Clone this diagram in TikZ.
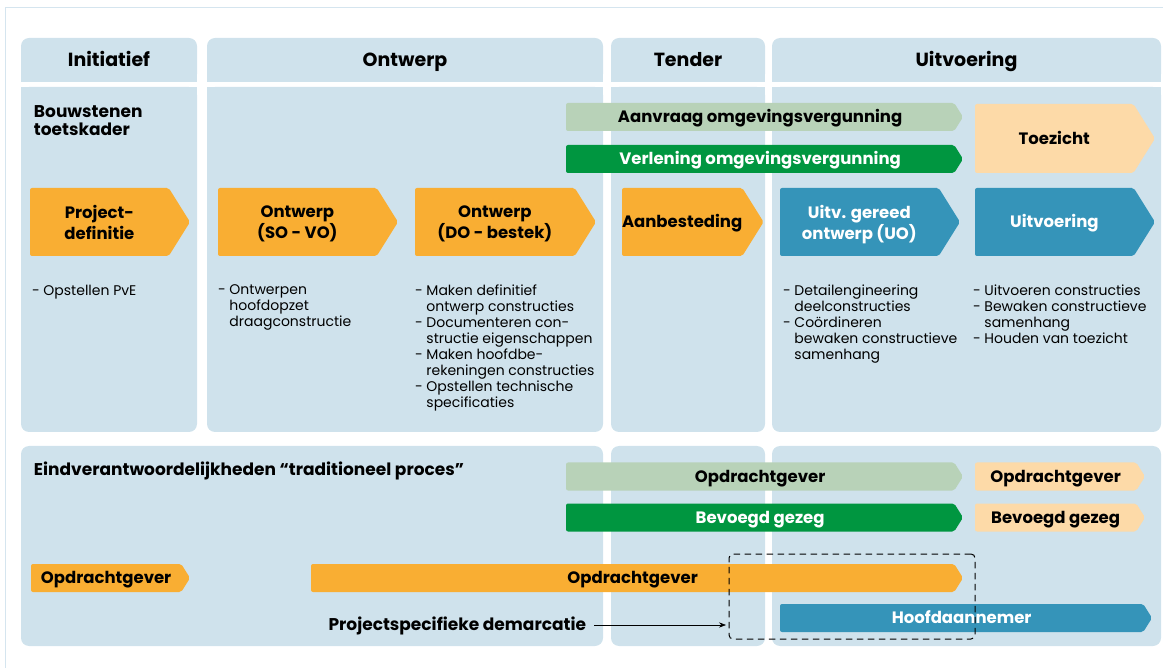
\documentclass[tikz,border=0pt]{standalone}
\usepackage{fontspec}
\setmainfont{Poppins}
\usetikzlibrary{positioning,shapes.symbols,arrows.meta}
\definecolor{panelblue}{HTML}{CFE2EC}
\definecolor{framecol}{HTML}{D5E5EF}
\definecolor{lgreen}{HTML}{B8D2B8}
\definecolor{dgreen}{HTML}{009640}
\definecolor{orng}{HTML}{F9AE33}
\definecolor{peach}{HTML}{FDDAA8}
\definecolor{pblue}{HTML}{3594B9}
\newcommand{\ind}{\hphantom{- }}

\begin{document}
\begin{tikzpicture}[x=1pt,y=-1pt]
        \tikzstyle{every node}=[inner sep=0pt, outer sep=0pt]
        \tikzstyle{phase}=[font=\bfseries\fontsize{19}{22}\selectfont, text height=13.3pt, text depth=0pt]
        \tikzstyle{bar}=[signal, signal to=east, signal pointer angle=116, rounded corners=2pt, anchor=west, align=center, font=\bfseries\fontsize{16.5}{21}\selectfont]
        \tikzstyle{small}=[bar, minimum height=28, text height=11.6pt, text depth=0pt]
        \tikzstyle{big}=[bar, minimum height=68, text depth=0pt]
        \tikzstyle{list}=[anchor=north west, align=left, font=\fontsize{14}{16}\selectfont]
        \tikzstyle{title}=[font=\bfseries\fontsize{17}{18}\selectfont]

        \useasboundingbox (0,0) rectangle (1163,668);
        \draw[framecol] (5.5,668) |- (1163,7.5);

        \foreach \xa/\xb/\ph in {21/197/Initiatief, 207/603/Ontwerp, 611/765/Tender, 772/1161/Uitvoering} {
            \fill[panelblue, rounded corners=8] (\xa,38) rectangle (\xb,82);
            \fill[panelblue] (\xa,60) rectangle (\xb,82);
            \fill[panelblue, rounded corners=8] (\xa,87) rectangle (\xb,432);
            \fill[panelblue] (\xa,87) rectangle (\xb,110);
            \node (\ph) [phase] at ({(\xa+\xb)/2},60) {\ph};
        }
        \foreach \xa/\xb in {21/603, 611/765, 772/1161}
            \fill[panelblue, rounded corners=8] (\xa,446) rectangle (\xb,646);

        \node (bouw) [title, anchor=north west, align=left] at (34,106) {Bouwstenen\\toetskader};

        \node (aanvraag)  [small, fill=lgreen, minimum width=397] at (566,117) {Aanvraag omgevingsvergunning};
        \node (verlening) [small, fill=dgreen, text=white, minimum width=397] at (566,159) {Verlening omgevingsvergunning};
        \node (toezicht)  [bar, minimum height=69, fill=peach, minimum width=180, text height=11.6pt, text depth=0pt] at (975,138.5) {Toezicht};

        \node (projdef)   [big, fill=orng, minimum width=160] at (30,222) {Project-\\definitie};
        \node (sovo)      [big, fill=orng, minimum width=180] at (218,222) {Ontwerp\\(SO - VO)};
        \node (dobestek)  [big, fill=orng, minimum width=181] at (415,222) {Ontwerp\\(DO - bestek)};
        \node (aanbest)   [big, fill=orng, minimum width=138, text height=11.6pt] at (622,222) {Aanbesteding};
        \node (uo)        [big, fill=pblue, text=white, minimum width=180] at (780,222) {Uitv. gereed\\ontwerp (UO)};
        \node (uitv)      [big, fill=pblue, text=white, minimum width=180, text height=11.6pt] at (975,222) {Uitvoering};

        \node (l1) [list] at (32,285) {- Opstellen PvE};
        \node (l2) [list] at (218,285) {- Ontwerpen\\\ind hoofdopzet\\\ind draagconstructie};
        \node (l3) [list] at (415,285) {- Maken definitief\\\ind ontwerp constructies\\- Documenteren con-\\\ind structie eigenschappen\\- Maken hoofdbe-\\\ind rekeningen constructies\\- Opstellen technische\\\ind specificaties};
        \node (l4) [list] at (783,285) {- Detailengineering\\\ind deelconstructies\\- Coördineren\\\ind bewaken constructieve\\\ind samenhang};
        \node (l5) [list] at (973,285) {- Uitvoeren constructies\\- Bewaken constructieve\\\ind samenhang\\- Houden van toezicht};

        \node (eind) [title, anchor=west, text height=11.9pt, text depth=0pt] at (34,470) {Eindverantwoordelijkheden “traditioneel proces”};

        \node (og1) [small, fill=lgreen, minimum width=397] at (566,476.5) {Opdrachtgever};
        \node (bg1) [small, fill=dgreen, text=white, minimum width=397] at (566,517.5) {Bevoegd gezeg};
        \node (og2) [small, fill=peach, minimum width=170] at (975,476.5) {Opdrachtgever};
        \node (bg2) [small, fill=peach, minimum width=170] at (975,517.5) {Bevoegd gezeg};
        \node (og3) [small, fill=orng, minimum width=159] at (31,578) {Opdrachtgever};
        \node (og4) [small, fill=orng, minimum width=652] at (311,578) {Opdrachtgever};
        \node (hoofd) [small, fill=pblue, text=white, minimum width=372] at (780,618) {Hoofdaannemer};

        \node (dbox) [draw, dash pattern=on 6.5pt off 4.5pt, line width=1pt, rounded corners=4pt, minimum width=246, minimum height=85, anchor=north west] at (729,554) {};
        \node (demarc) [title, anchor=east, text height=11.9pt, text depth=0pt] at (586,625) {Projectspecifieke demarcatie};
        \draw[-{Stealth[length=7pt]}, semithick, shorten <=8pt, shorten >=3pt] (demarc) -- (demarc -| dbox.west);
\end{tikzpicture}
\end{document}
